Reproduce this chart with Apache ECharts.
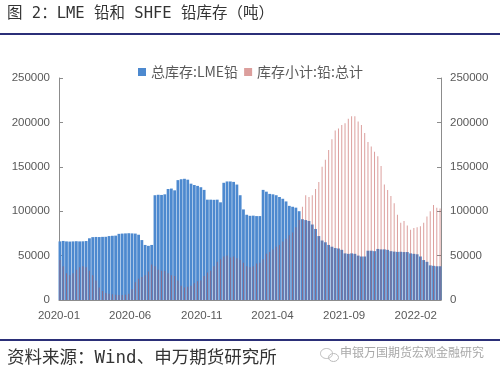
<!DOCTYPE html>
<html>
<head>
<meta charset="utf-8">
<script src="https://cdn.jsdelivr.net/npm/echarts@6/dist/echarts.min.js"></script>
<style>
  html, body { margin: 0; padding: 0; background: #fff; }
  #main { width: 500px; height: 375px; }
</style>
</head>
<body>
<div id="main"></div>
<script>
// 周度数据：2020-01-03 起每周五，共 117 周
const firstWeek = [2020, 0, 3];
const weekCount = 117;

// x 轴标签（每 5 个月一个）
const tickMonths = ['2020-01', '2020-06', '2020-11', '2021-04', '2021-09', '2022-02'];

// 总库存:LME铅（吨）
const lmeStock = [
  66000, 66500, 66000, 65800, 66000, 66200, 66000, 66100, 66400, 69500,
  70800, 71000, 70900, 71100, 71200, 72000, 72300, 72500, 74500, 74800,
  75000, 75200, 75000, 74800, 73500, 67500, 62000, 61000, 62000, 118000,
  118500, 118300, 119000, 125000, 125500, 123500, 135000, 136000, 136500, 135500,
  131000, 129500, 128500, 127000, 124000, 113000, 113000, 112800, 113000, 110000,
  132000, 133500, 133500, 133000, 130000, 118000, 102000, 96000, 94800, 95000,
  94500, 94500, 124000, 122000, 119500, 119000, 118000, 116000, 114000, 111000,
  106000, 105000, 104000, 100000, 91000, 90000, 89000, 85000, 80000, 72000,
  67000, 65000, 62000, 60000, 58500, 58000, 56500, 52500, 52000, 52500,
  52000, 50000, 49000, 49000, 55500, 55500, 55000, 57500, 57000, 57000,
  56500, 55000, 54500, 54200, 54300, 54000, 54000, 52500, 52000, 51500,
  49000, 45000, 43000, 39000, 38500, 38000, 38000
];

// 库存小计:铅:总计（上期所，吨）
const shfeStock = [
  45000, 38000, 30000, 28000, 30000, 34000, 37000, 38000, 37000, 33000,
  28000, 22000, 14000, 10000, 8000, 7000, 6500, 6000, 5500, 5500,
  6000, 7000, 12000, 20000, 24000, 26000, 28000, 32000, 40000, 38000,
  34000, 33000, 33000, 30000, 28000, 27000, 22000, 16000, 14000, 15000,
  16000, 19000, 21000, 22000, 27000, 31000, 33000, 38000, 43000, 46000,
  49000, 50000, 48000, 49000, 47000, 45000, 42000, 38000, 37000, 38000,
  41000, 42000, 46000, 52000, 54000, 57000, 60000, 62000, 66000, 69000,
  73000, 76000, 82000, 90000, 105000, 118000, 116000, 118000, 125000, 133000,
  150000, 158000, 169000, 181000, 191000, 193000, 197000, 199000, 204000, 207000,
  207000, 201000, 197000, 188000, 178000, 173000, 167000, 162000, 151000, 130000,
  124000, 117000, 109000, 96000, 87000, 89000, 84000, 79000, 81000, 82000,
  83000, 87000, 94000, 100000, 107000, 104000, 103000
];

function pad(n) { return (n < 10 ? '0' : '') + n; }

const weeks = [];
for (let i = 0; i < weekCount; i++) {
  weeks.push(+new Date(firstWeek[0], firstWeek[1], firstWeek[2] + i * 7));
}
const tickValues = tickMonths.map(function (m) {
  const p = m.split('-');
  return +new Date(+p[0], +p[1] - 1, 1);
});

const xMin = +new Date(2020, 0, 1);
const xMax = +new Date(2022, 2, 27);

const axisGray = '#8c8c8c';
const labelGray = '#595959';
const labelFont = '"Liberation Sans", Arial, sans-serif';

function dateAxis(show) {
  return {
    type: 'value',
    show: show,
    min: xMin,
    max: xMax,
    axisLine: { show: true, onZero: false, lineStyle: { color: axisGray, width: 1 } },
    axisTick: { show: false },
    splitLine: { show: false },
    axisLabel: {
      customValues: tickValues,
      color: labelGray,
      fontSize: 11.5,
      fontFamily: labelFont,
      margin: 10,
      formatter: function (v) {
        const d = new Date(v);
        return d.getFullYear() + '-' + pad(d.getMonth() + 1);
      }
    }
  };
}

function valueAxis(pos) {
  return {
    type: 'value',
    position: pos,
    min: 0,
    max: 250000,
    interval: 50000,
    axisLine: { show: true, lineStyle: { color: axisGray, width: 1 } },
    axisTick: { show: true, inside: true, length: 4, lineStyle: { color: axisGray } },
    splitLine: { show: false },
    axisLabel: {
      color: labelGray, fontSize: 11.5, fontFamily: labelFont, margin: 9,
      formatter: function (v) { return String(v); }
    }
  };
}

const myChart = echarts.init(document.getElementById('main'));

const option = {
  backgroundColor: '#ffffff',
  animation: false,
  grid: { left: 59, right: 59, top: 78, bottom: 75, containLabel: false },
  legend: {
    left: 133,
    top: 60,
    itemWidth: 8,
    itemHeight: 8,
    itemGap: 6,
    icon: 'rect',
    textStyle: { color: labelGray, fontSize: 14, fontFamily: '"Noto Sans CJK SC", sans-serif' },
    data: ['总库存:LME铅', '库存小计:铅:总计']
  },
  xAxis: [dateAxis(true), dateAxis(false)],
  yAxis: [valueAxis('left'), valueAxis('right')],
  series: [
    {
      name: '总库存:LME铅',
      type: 'bar',
      xAxisIndex: 0,
      yAxisIndex: 0,
      barWidth: 2.8,
      itemStyle: { color: '#4d89cf' },
      data: weeks.map(function (d, i) { return [d, lmeStock[i]]; })
    },
    {
      name: '库存小计:铅:总计',
      type: 'bar',
      xAxisIndex: 1,
      yAxisIndex: 1,
      barWidth: 1,
      itemStyle: { color: '#c0504d', opacity: 0.55 },
      data: weeks.map(function (d, i) { return [d, shfeStock[i]]; })
    }
  ],
  graphic: [
    {
      type: 'text', left: 7, top: 6,
      style: {
        text: '图 2：LME 铅和 SHFE 铅库存（吨）',
        fill: '#333333',
        font: '15.5px "DejaVu Sans Mono", "Noto Sans CJK SC", monospace'
      }
    },
    { type: 'rect', left: 0, top: 33, shape: { width: 500, height: 2 }, style: { fill: '#2b2f78' } },
    { type: 'rect', left: 0, top: 339, shape: { width: 500, height: 2 }, style: { fill: '#2b2f78' } },
    {
      type: 'text', left: 7, top: 350,
      style: {
        text: '资料来源：Wind、申万期货研究所',
        fill: '#333333',
        font: '17.5px "DejaVu Sans Mono", "Noto Sans CJK SC", monospace'
      }
    },
    { type: 'ellipse', left: 318, top: 346, shape: { cx: 0, cy: 0, rx: 6, ry: 5 }, style: { fill: 'none', stroke: '#bbbbbb', lineWidth: 1 } },
    { type: 'ellipse', left: 326, top: 351, shape: { cx: 0, cy: 0, rx: 5, ry: 4 }, style: { fill: 'none', stroke: '#bbbbbb', lineWidth: 1 } },
    {
      type: 'text', left: 340, top: 346,
      style: {
        text: '申银万国期货宏观金融研究',
        fill: '#a8a8a8',
        font: '12px "Noto Sans CJK SC", sans-serif'
      }
    }
  ]
};

myChart.setOption(option);
</script>
</body>
</html>
